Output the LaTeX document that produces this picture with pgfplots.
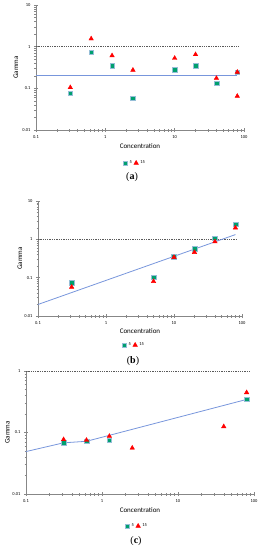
\documentclass[border=0pt]{standalone}
\usepackage{fontspec}
\setmainfont{Carlito}
\newfontfamily\capfont{Liberation Serif}
\usepackage{pgfplots}
\pgfplotsset{compat=1.18}
\definecolor{sqc}{RGB}{0,160,110}
\definecolor{sqedge}{RGB}{150,190,215}
\definecolor{tric}{RGB}{255,0,0}
\definecolor{fitc}{RGB}{120,150,220}
\definecolor{axgray}{RGB}{135,135,135}
\begin{document}
\begin{tikzpicture}
\path[use as bounding box] (0,0) rectangle (262pt,-550pt);
% ---------------- (a)
\begin{loglogaxis}[scale only axis, anchor=south west, at={(36pt,-130pt)}, width=208pt, height=125pt,
  xmin=0.1, xmax=100, ymin=0.01, ymax=10,
  axis lines*=left, axis line style={axgray, line width=0.8pt},
  xtick={0.1,1,10,100}, xticklabels={0.1,1,10,100},
  minor xtick={0.2,0.3,0.4,0.5,0.6,0.7,0.8,0.9,2,3,4,5,6,7,8,9,20,30,40,50,60,70,80,90},
  ytick={0.01,0.1,1,10}, yticklabels={0.01,0.1,1,10},
  minor ytick={0.02,0.03,0.04,0.05,0.06,0.07,0.08,0.09,0.2,0.3,0.4,0.5,0.6,0.7,0.8,0.9,2,3,4,5,6,7,8,9},
  tick align=center, major tick length=4pt, minor tick length=3pt,
  every tick/.style={axgray, line width=0.5pt},
  tick label style={font=\fontsize{4.5}{5}\selectfont},
  xlabel={Concentration}, ylabel={Gamma},
  xlabel style={font=\fontsize{7}{8}\selectfont, at={(axis description cs:0.5,0)}, anchor=center, yshift=-16pt},
  ylabel style={font=\fontsize{7}{8}\selectfont, at={(axis description cs:0,0.5)}, anchor=center, yshift=20pt},
  legend style={draw=none, fill=none, font=\fontsize{4.5}{5}\selectfont, legend columns=2,
     at={(axis description cs:0.5,0)}, anchor=center, yshift=-33pt, xshift=-5pt},
  clip=false]
\addplot[black!65, dash pattern=on 1.3pt off 1pt, line width=0.5pt, no marks, forget plot] coordinates {(0.1,1) (85,1)};
\addplot[color=fitc, line width=0.9pt, no marks, forget plot] coordinates {(0.1,0.2) (80,0.2)};
\addplot[only marks, mark=square*, mark size=2.3pt, mark options={fill=sqc, draw=sqedge}] coordinates {(0.3125,0.077) (0.625,0.73) (1.25,0.355) (2.5,0.058) (10,0.28) (20,0.35) (40,0.133) (80,0.245)};
\addplot[only marks, mark=triangle*, mark size=2.6pt, mark options={fill=tric, draw=tric}] coordinates {(0.3125,0.105) (0.625,1.55) (1.25,0.61) (2.5,0.275) (10,0.53) (20,0.65) (40,0.175) (80,0.245) (80,0.065)};
\legend{5,15}
\end{loglogaxis}
\node at (132pt,-177pt) {\capfont\fontsize{10}{12}\selectfont(\textbf{a})};
% ---------------- (b)
\begin{loglogaxis}[scale only axis, anchor=south west, at={(38pt,-316pt)}, width=204pt, height=115pt,
  xmin=0.1, xmax=100, ymin=0.01, ymax=10,
  axis lines*=left, axis line style={axgray, line width=0.8pt},
  xtick={0.1,1,10,100}, xticklabels={0.1,1,10,100},
  minor xtick={0.2,0.3,0.4,0.5,0.6,0.7,0.8,0.9,2,3,4,5,6,7,8,9,20,30,40,50,60,70,80,90},
  ytick={0.01,0.1,1,10}, yticklabels={0.01,0.1,1,10},
  minor ytick={0.02,0.03,0.04,0.05,0.06,0.07,0.08,0.09,0.2,0.3,0.4,0.5,0.6,0.7,0.8,0.9,2,3,4,5,6,7,8,9},
  tick align=center, major tick length=4pt, minor tick length=3pt,
  every tick/.style={axgray, line width=0.5pt},
  tick label style={font=\fontsize{4.5}{5}\selectfont},
  xlabel={Concentration}, ylabel={Gamma},
  xlabel style={font=\fontsize{7}{8}\selectfont, at={(axis description cs:0.5,0)}, anchor=center, yshift=-15pt},
  ylabel style={font=\fontsize{7}{8}\selectfont, at={(axis description cs:0,0.5)}, anchor=center, yshift=18pt},
  legend style={draw=none, fill=none, font=\fontsize{4.5}{5}\selectfont, legend columns=2,
     at={(axis description cs:0.5,0)}, anchor=center, yshift=-29pt, xshift=-6pt},
  clip=false]
\addplot[black!65, dash pattern=on 1.3pt off 1pt, line width=0.5pt, no marks, forget plot] coordinates {(0.1,1) (85,1)};
\addplot[color=fitc, line width=0.8pt, no marks, forget plot] coordinates {(0.1,0.02) (80,1.33)};
\addplot[only marks, mark=square*, mark size=2.3pt, mark options={fill=sqc, draw=sqedge}] coordinates {(0.3125,0.074) (5,0.102) (10,0.355) (20,0.57) (40,1.06) (80,2.5)};
\addplot[only marks, mark=triangle*, mark size=2.6pt, mark options={fill=tric, draw=tric}] coordinates {(0.3125,0.057) (5,0.080) (10,0.34) (20,0.46) (40,0.87) (80,2.0)};
\legend{5,15}
\end{loglogaxis}
\node at (133pt,-361pt) {\capfont\fontsize{10}{12}\selectfont(\textbf{b})};
% ---------------- (c)
\begin{loglogaxis}[scale only axis, anchor=south west, at={(26pt,-494pt)}, width=228pt, height=123pt,
  xmin=0.1, xmax=100, ymin=0.01, ymax=1,
  axis lines*=left, axis line style={axgray, line width=0.8pt},
  xtick={0.1,1,10,100}, xticklabels={0.1,1,10,100},
  minor xtick={0.2,0.3,0.4,0.5,0.6,0.7,0.8,0.9,2,3,4,5,6,7,8,9,20,30,40,50,60,70,80,90},
  ytick={0.01,0.1,1}, yticklabels={0.01,0.1,1},
  minor ytick={0.02,0.03,0.04,0.05,0.06,0.07,0.08,0.09,0.2,0.3,0.4,0.5,0.6,0.7,0.8,0.9},
  tick align=center, major tick length=4pt, minor tick length=3pt,
  every tick/.style={axgray, line width=0.5pt},
  tick label style={font=\fontsize{4.5}{5}\selectfont},
  xlabel={Concentration}, ylabel={Gamma},
  xlabel style={font=\fontsize{7}{8}\selectfont, at={(axis description cs:0.5,0)}, anchor=center, yshift=-16pt},
  ylabel style={font=\fontsize{7}{8}\selectfont, at={(axis description cs:0,0.5)}, anchor=center, yshift=18.5pt},
  legend style={draw=none, fill=none, font=\fontsize{4.5}{5}\selectfont, legend columns=2,
     at={(axis description cs:0.5,0)}, anchor=center, yshift=-32pt, xshift=-3pt},
  clip=false]
\addplot[black!65, dash pattern=on 1.3pt off 1pt, line width=0.5pt, no marks, forget plot] coordinates {(0.1,1) (90,1)};
\addplot[color=fitc, line width=0.8pt, no marks, forget plot] coordinates {(0.1,0.049) (0.3125,0.068) (0.625,0.072) (1.25,0.09) (80,0.345)};
\addplot[only marks, mark=square*, mark size=2.3pt, mark options={fill=sqc, draw=sqedge}] coordinates {(0.3125,0.068) (0.625,0.072) (1.25,0.075) (80,0.348)};
\addplot[only marks, mark=triangle*, mark size=2.6pt, mark options={fill=tric, draw=tric}] coordinates {(0.3125,0.077) (0.625,0.075) (1.25,0.087) (2.5,0.056) (40,0.125) (80,0.447)};
\legend{5,15}
\end{loglogaxis}
\node at (136pt,-541pt) {\capfont\fontsize{10}{12}\selectfont(\textbf{c})};
\end{tikzpicture}
\end{document}
